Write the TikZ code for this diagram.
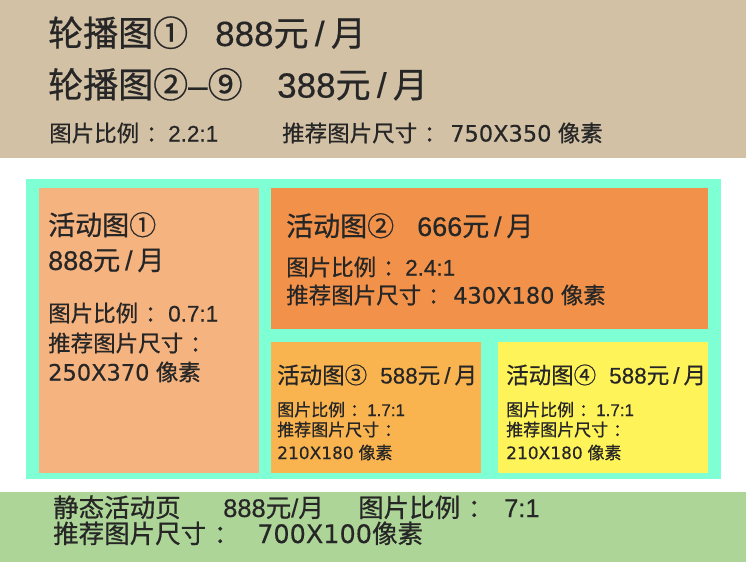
\documentclass[tikz,border=0pt]{standalone}
\usepackage{fontspec}
\setmainfont{Liberation Sans}[FakeBold=0.4]
\newfontfamily\cjkfont{Noto Sans CJK SC}[FakeBold=0.7]
\newfontfamily\dimfont{DejaVu Sans}[FakeBold=0.3]
\newcommand{\hanzi}[1]{{\cjkfont #1}}
\newcommand{\dims}[1]{{\dimfont #1}}
\newcommand{\fcolon}{\kern.3em\hanzi{：}}
\newcommand{\permonth}{\hanzi{元}\kern.18em/\kern.18em\hanzi{月}}
\usetikzlibrary{positioning}
\definecolor{tanbg}{HTML}{D3C1A6}
\definecolor{framec}{HTML}{7FFFD4}
\definecolor{boxa}{HTML}{F5B380}
\definecolor{boxb}{HTML}{F2924A}
\definecolor{boxc}{HTML}{F9B450}
\definecolor{boxd}{HTML}{FFF35A}
\definecolor{greenbg}{HTML}{AED598}
\definecolor{ink}{HTML}{262626}

\begin{document}
\begin{tikzpicture}[x=1pt, y=-1pt,
    txt/.style={anchor=base west, inner sep=0pt, text=ink},
    fsbig/.style={txt, font=\fontsize{35}{40}\selectfont},
    fshead/.style={txt, font=\fontsize{27}{32}\selectfont},
    fsfoot/.style={txt, font=\fontsize{25.5}{30}\selectfont},
    fsbody/.style={txt, font=\fontsize{22.5}{26}\selectfont},
    fssmall/.style={txt, font=\fontsize{17}{20}\selectfont}]
    \useasboundingbox (0,0) rectangle (746,562);
    % backgrounds
    \fill[tanbg] (0,0) rectangle (746,158);
    \fill[framec] (26,179) rectangle (721,479);
    \fill[boxa] (39,188) rectangle (259,473);
    \fill[boxb] (271,188) rectangle (708,329);
    \fill[boxc] (271,342) rectangle (481,473);
    \fill[boxd] (498,342) rectangle (708,473);
    \fill[greenbg] (0,492) rectangle (746,562);
    % carousel
    \node[fsbig] (car1) at (48,46) {\hanzi{轮播图①}};
    \node[fsbig] (car1p) at (215,46) {888\permonth};
    \node[fsbig] (car2) at (48,97.6) {\hanzi{轮播图②}–\hanzi{⑨}};
    \node[fsbig] (car2p) at (277,97.6) {388\permonth};
    \node[fsbody] (carr) at (49,141.5) {\hanzi{图片比例}\fcolon};
    \node[fsbody] (carrv) at (168,141.5) {2.2:1};
    \node[fsbody] (cars) at (282,141.5) {\hanzi{推荐图片尺寸}\fcolon};
    \node[fsbody] (carsv) at (450,141.5) {\dims{750X350} \hanzi{像素}};
    % activity 1
    \node[fshead] (act1) at (48,235) {\hanzi{活动图①}};
    \node[fshead] (act1p) at (48,270) {888\permonth};
    \node[fsbody] (act1r) at (48,321.5) {\hanzi{图片比例}\fcolon};
    \node[fsbody] (act1rv) at (168,321.5) {0.7:1};
    \node[fsbody] (act1s) at (48,351.5) {\hanzi{推荐图片尺寸}\fcolon};
    \node[fsbody] (act1sv) at (48,380.5) {\dims{250X370} \hanzi{像素}};
    % activity 2
    \node[fshead] (act2) at (286,236) {\hanzi{活动图②}};
    \node[fshead] (act2p) at (417,236) {666\permonth};
    \node[fsbody] (act2r) at (286,275.5) {\hanzi{图片比例}\fcolon};
    \node[fsbody] (act2rv) at (405,275.5) {2.4:1};
    \node[fsbody] (act2s) at (286,303.5) {\hanzi{推荐图片尺寸}\fcolon};
    \node[fsbody] (act2sv) at (453,303.5) {\dims{430X180} \hanzi{像素}};
    % activity 3 and 4
    \foreach \x/\n/\c in {277/3/③, 506/4/④} {
      \node[fsbody] (act\n) at (\x,383.5) {\hanzi{活动图\c}};
      \node[fsbody] (act\n p) at (\x+103,383.5) {588\permonth};
      \node[fssmall] (act\n r) at (\x,416) {\hanzi{图片比例}\fcolon};
      \node[fssmall] (act\n rv) at (\x+90,416) {1.7:1};
      \node[fssmall] (act\n s) at (\x,436) {\hanzi{推荐图片尺寸}\fcolon};
      \node[fssmall] (act\n sv) at (\x,459) {\dims{210X180} \hanzi{像素}};
    }
    % static page
    \node[fsfoot] (stat) at (53,517) {\hanzi{静态活动页}};
    \node[fsfoot] (statp) at (223,517) {888\hanzi{元}/\hanzi{月}};
    \node[fsfoot] (statr) at (358,517) {\hanzi{图片比例}\fcolon};
    \node[fsfoot] (statrv) at (504,517) {7:1};
    \node[fsfoot] (stats) at (53,543) {\hanzi{推荐图片尺寸}\fcolon};
    \node[fsfoot] (statsv) at (257,543) {\dims{700X100}\hanzi{像素}};
\end{tikzpicture}
\end{document}
